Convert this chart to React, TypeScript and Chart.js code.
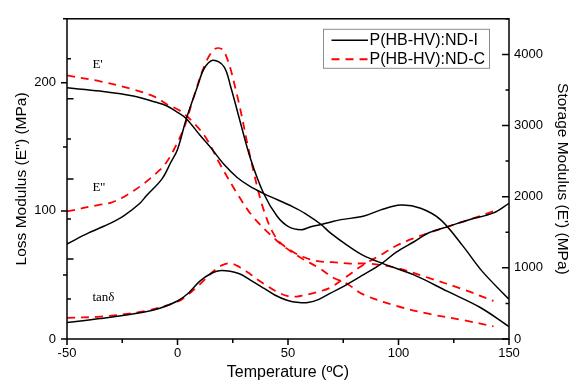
import React, { useEffect, useRef } from "react";
import { Chart, registerables } from "chart.js";

Chart.register(...registerables);

// ---- Data ----
// Storage modulus E' (MPa, right axis)
const tStorageI = [-50, -35, -20, -10, -5, 0, 4, 10, 15, 21, 27, 33, 39, 45, 52, 58, 65, 69, 77, 84, 93, 107, 122, 137, 150];
const storageI = [3530, 3484, 3416, 3330, 3278, 3185, 3096, 2870, 2690, 2455, 2270, 2140, 2044, 1960, 1861, 1760, 1609, 1495, 1313, 1176, 1060, 901, 672, 443, 175];
const tStorageC = [-50, -35, -20, -10, -5, 1, 7, 13, 19, 27, 34, 45, 54, 65, 70, 77, 84, 99, 114, 130, 143];
const storageC = [3704, 3621, 3508, 3400, 3302, 3210, 3049, 2822, 2470, 2044, 1724, 1381, 1176, 980, 870, 770, 627, 466, 352, 261, 178];

// Loss modulus E'' (MPa, left axis)
const tLossI = [-50, -40, -30, -24, -17, -14, -7, -3, 0, 4, 9, 12, 16, 21, 24, 28, 33, 39, 45, 50, 56, 60, 65, 69, 74, 84, 92, 101, 110, 119, 129, 138, 150];
const lossI = [74.2, 83, 90.7, 96.5, 106, 112, 125, 138, 148, 172, 197, 211, 217.7, 212.7, 197.4, 172, 141, 113.6, 96, 88, 85.3, 87.5, 89.4, 91.2, 93.2, 95.8, 100.8, 104.6, 102.1, 93.2, 72.9, 52.6, 31];
const tLossC = [-50, -36, -30, -23, -15.5, -8, -5, -2, 3, 7, 12.6, 17, 21, 27, 33, 39, 45, 52.5, 57, 61.5, 66, 70, 78, 86, 99, 114, 129.5, 143];
const lossC = [99.6, 104.6, 106.5, 112.3, 121, 132, 138, 146.6, 165, 187, 215, 226.6, 225, 190, 141.5, 100.8, 78, 67.8, 64, 61.5, 60.2, 60, 58.9, 58.9, 55.6, 47.5, 38.6, 29.7];

// tan delta (hidden axis)
const tTanI = [-50, -35, -15.5, -8, 0, 5, 10, 15, 20, 28, 33, 39, 44, 49.5, 55, 59, 64, 69, 76, 84, 92, 99, 107, 114, 123, 132, 143, 150];
const tanI = [0.041, 0.051, 0.067, 0.077, 0.095, 0.115, 0.144, 0.163, 0.171, 0.163, 0.147, 0.127, 0.11, 0.097, 0.091, 0.091, 0.099, 0.114, 0.134, 0.16, 0.187, 0.217, 0.243, 0.266, 0.282, 0.298, 0.315, 0.339];
const tTanC = [-50, -35, -15.5, 0, 5, 10, 16, 20, 24, 28, 33, 36, 40.5, 45, 50, 54, 57, 63, 69, 76, 84, 92, 99, 107, 114, 123, 132, 143];
const tanC = [0.053, 0.056, 0.069, 0.093, 0.112, 0.136, 0.168, 0.184, 0.189, 0.18, 0.162, 0.149, 0.133, 0.118, 0.107, 0.106, 0.109, 0.117, 0.128, 0.154, 0.185, 0.21, 0.233, 0.252, 0.266, 0.282, 0.298, 0.319];

// Tick labels
const xTickLabels = [-50, 0, 50, 100, 150];
const lossTickLabels = [0, 100, 200];
const storageTickLabels = [0, 1000, 2000, 3000, 4000];

const seriesNames = ["P(HB-HV):ND-I", "P(HB-HV):ND-C"];
const curveLabels = [
  { text: "E'", x: -38.5, y: 214 },
  { text: "E''", x: -38.5, y: 118 },
  { text: "tan\u03b4", x: -38.5, y: 32 },
];

const BLACK = "#000000";
const RED = "#ff0000";
const DASH = [8, 6];

const pts = (xs: number[], ys: number[]) => xs.map((x, i) => ({ x, y: ys[i] }));

const line = (data: any[], color: string, axis: string, dashed: boolean, label: string) => ({
  label,
  data,
  borderColor: color,
  backgroundColor: color,
  borderWidth: dashed ? 1.8 : 1.5,
  borderDash: dashed ? DASH : [],
  pointRadius: 0,
  fill: false,
  tension: 0.35,
  yAxisID: axis,
});

const decorPlugin = {
  id: "decor",
  afterDraw(chart: any) {
    const ctx = chart.ctx;
    const ca = chart.chartArea;
    const sx = chart.scales.x;
    const sy = chart.scales.y;
    const sy2 = chart.scales.y2;
    const st = chart.scales.yTan;
    ctx.save();
    ctx.strokeStyle = "#000";
    ctx.lineWidth = 1.5;
    ctx.lineCap = "butt";
    // frame
    ctx.strokeRect(ca.left, ca.top, ca.right - ca.left, ca.bottom - ca.top);
    ctx.beginPath();
    // x ticks (outward)
    sx.ticks.forEach((t: any) => {
      const p = sx.getPixelForValue(t.value);
      const len = Math.round(t.value) % 50 === 0 ? 6 : 4;
      ctx.moveTo(p, ca.bottom);
      ctx.lineTo(p, ca.bottom + len);
    });
    // left ticks (outward)
    sy.ticks.forEach((t: any) => {
      const p = sy.getPixelForValue(t.value);
      const len = Math.round(t.value) % 100 === 0 ? 6 : 4;
      ctx.moveTo(ca.left, p);
      ctx.lineTo(ca.left - len, p);
    });
    // right ticks (inward)
    sy2.ticks.forEach((t: any) => {
      const p = sy2.getPixelForValue(t.value);
      const len = Math.round(t.value) % 1000 === 0 ? 7 : 3.5;
      ctx.moveTo(ca.right, p);
      ctx.lineTo(ca.right - len, p);
    });
    // tan delta ticks (inward on left)
    st.ticks.forEach((t: any) => {
      if (t.value <= st.min + 1e-9 || t.value >= st.max - 1e-9) return;
      const p = st.getPixelForValue(t.value);
      const len = Math.round(t.value * 10) % 2 === 0 ? 6.5 : 4;
      ctx.moveTo(ca.left, p);
      ctx.lineTo(ca.left + len, p);
    });
    ctx.stroke();

    // curve labels
    ctx.fillStyle = "#000";
    ctx.font = "13px 'Liberation Serif', 'Times New Roman', serif";
    ctx.textAlign = "left";
    ctx.textBaseline = "middle";
    curveLabels.forEach((l) => {
      ctx.fillText(l.text, sx.getPixelForValue(l.x), sy.getPixelForValue(l.y));
    });

    // legend
    const bw = 166, bh = 39;
    const bx = ca.right - 20 - bw;
    const by = ca.top + 10;
    ctx.fillStyle = "#fff";
    ctx.fillRect(bx, by, bw, bh);
    ctx.strokeStyle = "#8c8c8c";
    ctx.lineWidth = 1;
    ctx.strokeRect(bx + 0.5, by + 0.5, bw, bh);
    const rows = [
      { color: BLACK, dash: [] as number[], w: 1.5, y: by + 11.5 },
      { color: RED, dash: DASH, w: 2, y: by + 30.5 },
    ];
    ctx.font = "16px 'Liberation Sans', Arial, sans-serif";
    ctx.textBaseline = "middle";
    rows.forEach((r, i) => {
      ctx.beginPath();
      ctx.strokeStyle = r.color;
      ctx.lineWidth = r.w;
      ctx.setLineDash(r.dash);
      ctx.moveTo(bx + 8.5, r.y);
      ctx.lineTo(bx + 45, r.y);
      ctx.stroke();
      ctx.setLineDash([]);
      ctx.fillStyle = "#000";
      ctx.fillText(seriesNames[i], bx + 46.5, r.y + 0.5);
    });
    ctx.restore();
  },
};

const tickFont = { size: 13, family: "'Liberation Sans', Arial, sans-serif" };
const titleFont = { size: 15.5, family: "'Liberation Sans', Arial, sans-serif" };

export default function App() {
  const ref = useRef<HTMLCanvasElement>(null);
  useEffect(() => {
    document.body.style.margin = "0";
    Chart.defaults.font.family = "'Liberation Sans', Arial, sans-serif";
    const chart = new Chart(ref.current as HTMLCanvasElement, {
      type: "line",
      data: {
        datasets: [
          line(pts(tStorageI, storageI), BLACK, "y2", false, seriesNames[0]),
          line(pts(tLossI, lossI), BLACK, "y", false, seriesNames[0]),
          line(pts(tTanI, tanI), BLACK, "yTan", false, seriesNames[0]),
          line(pts(tStorageC, storageC), RED, "y2", true, seriesNames[1]),
          line(pts(tLossC, lossC), RED, "y", true, seriesNames[1]),
          line(pts(tTanC, tanC), RED, "yTan", true, seriesNames[1]),
        ],
      },
      options: {
        animation: false,
        responsive: false,
        devicePixelRatio: 1,
        layout: { padding: { top: 11, left: 0, right: 0, bottom: 0 } },
        plugins: { legend: { display: false }, tooltip: { enabled: false } },
        scales: {
          x: {
            type: "linear",
            min: -50,
            max: 150,
            ticks: {
              stepSize: 25,
              autoSkip: false,
              maxRotation: 0,
              padding: 7,
              color: "#000",
              font: tickFont,
              callback: (v: any) => (xTickLabels.includes(Number(v)) ? String(v) : ""),
            },
            grid: { display: false, drawTicks: false },
            border: { display: false },
            title: {
              display: true,
              text: "Temperature (ºC)",
              color: "#000",
              font: { size: 16, family: titleFont.family },
              padding: { top: 0, bottom: 0 },
            },
            afterFit: (s: any) => {
              s.height = 43;
            },
          },
          y: {
            type: "linear",
            position: "left",
            min: 0,
            max: 250,
            ticks: {
              stepSize: 50,
              padding: 11,
              color: "#000",
              font: tickFont,
              callback: (v: any) => (lossTickLabels.includes(Number(v)) ? String(v) : ""),
            },
            grid: { display: false, drawTicks: false },
            border: { display: false },
            title: {
              display: true,
              text: "Loss Modulus (E'') (MPa)",
              color: "#000",
              font: titleFont,
              padding: { top: 12.5, bottom: 0 },
            },
            afterFit: (s: any) => {
              s.width = 67;
            },
          },
          yTan: {
            type: "linear",
            position: "left",
            min: 0,
            max: 0.8,
            ticks: { stepSize: 0.1, display: false },
            grid: { display: false, drawTicks: false },
            border: { display: false },
            afterFit: (s: any) => {
              s.width = 0;
            },
          },
          y2: {
            type: "linear",
            position: "right",
            min: 0,
            max: 4500,
            ticks: {
              stepSize: 500,
              padding: 5,
              color: "#000",
              font: tickFont,
              callback: (v: any) => (storageTickLabels.includes(Number(v)) ? String(v) : ""),
            },
            grid: { display: false, drawTicks: false },
            border: { display: false },
            title: {
              display: true,
              text: "Storage Modulus (E') (MPa)",
              color: "#000",
              font: titleFont,
              padding: { top: 6, bottom: 0 },
            },
            afterFit: (s: any) => {
              s.width = 69;
            },
          },
        },
      } as any,
      plugins: [decorPlugin],
    });
    return () => chart.destroy();
  }, []);
  return (
    <canvas
      ref={ref}
      width={578}
      height={382}
      style={{ display: "block", width: 578, height: 382 }}
    />
  );
}
